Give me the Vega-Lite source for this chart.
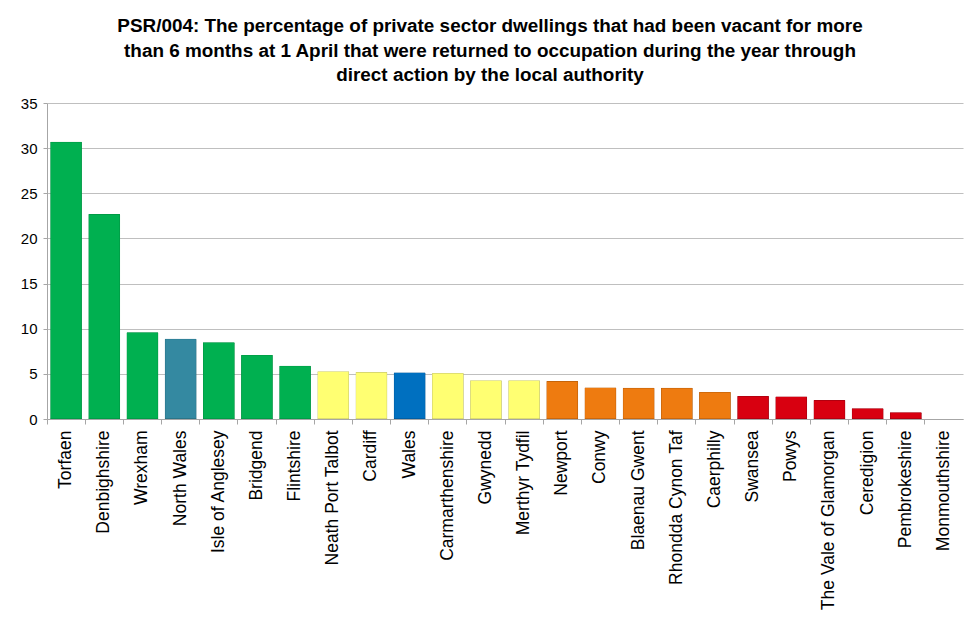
{
  "$schema": "https://vega.github.io/schema/vega-lite/v6.json",
  "width": 916,
  "height": 316,
  "autosize": "none",
  "padding": {"left": 47, "top": 103, "right": 7, "bottom": 199},
  "background": "white",
  "title": {
    "text": ["PSR/004: The percentage of private sector dwellings that had been vacant for more", "than 6 months at 1 April that were returned to occupation during the year through", "direct action by the local authority"],
    "font": "Liberation Sans",
    "fontSize": 18.9,
    "fontWeight": "bold",
    "color": "#000000",
    "anchor": "middle",
    "lineHeight": 24.5,
    "offset": 11,
    "dx": -15
  },
  "config": {
    "view": {"stroke": null},
    "axis": {"labelFont": "Liberation Sans", "labelColor": "#000000", "titleFont": "Liberation Sans"}
  },
  "data": {
    "values": [
      {"area": "Torfaen", "value": 30.7, "group": "green"},
      {"area": "Denbighshire", "value": 22.7, "group": "green"},
      {"area": "Wrexham", "value": 9.6, "group": "green"},
      {"area": "North Wales", "value": 8.9, "group": "teal"},
      {"area": "Isle of Anglesey", "value": 8.5, "group": "green"},
      {"area": "Bridgend", "value": 7.1, "group": "green"},
      {"area": "Flintshire", "value": 5.9, "group": "green"},
      {"area": "Neath Port Talbot", "value": 5.3, "group": "yellow"},
      {"area": "Cardiff", "value": 5.2, "group": "yellow"},
      {"area": "Wales", "value": 5.15, "group": "blue"},
      {"area": "Carmarthenshire", "value": 5.1, "group": "yellow"},
      {"area": "Gwynedd", "value": 4.3, "group": "yellow"},
      {"area": "Merthyr Tydfil", "value": 4.3, "group": "yellow"},
      {"area": "Newport", "value": 4.2, "group": "orange"},
      {"area": "Conwy", "value": 3.5, "group": "orange"},
      {"area": "Blaenau Gwent", "value": 3.45, "group": "orange"},
      {"area": "Rhondda Cynon Taf", "value": 3.45, "group": "orange"},
      {"area": "Caerphilly", "value": 3.0, "group": "orange"},
      {"area": "Swansea", "value": 2.55, "group": "red"},
      {"area": "Powys", "value": 2.5, "group": "red"},
      {"area": "The Vale of Glamorgan", "value": 2.1, "group": "red"},
      {"area": "Ceredigion", "value": 1.2, "group": "red"},
      {"area": "Pembrokeshire", "value": 0.75, "group": "red"},
      {"area": "Monmouthshire", "value": 0, "group": "red"}
    ]
  },
  "mark": {"type": "bar", "width": {"band": 0.83}, "strokeWidth": 1, "cornerRadiusTopLeft": 1, "cornerRadiusTopRight": 1},
  "encoding": {
    "x": {
      "field": "area",
      "type": "nominal",
      "sort": null,
      "scale": {"paddingInner": 0, "paddingOuter": 0},
      "axis": {
        "title": null,
        "labelAngle": -90,
        "labelAlign": "right",
        "labelBaseline": "middle",
        "labelFontSize": 17.5,
        "labelPadding": 6,
        "bandPosition": 0,
        "tickSize": 5,
        "tickColor": "#a6a6a6",
        "domainColor": "#a6a6a6",
        "grid": false,
        "labelOverlap": false,
        "labelLimit": 300
      }
    },
    "y": {
      "field": "value",
      "type": "quantitative",
      "scale": {"domain": [0, 35], "nice": false},
      "axis": {
        "title": null,
        "values": [0, 5, 10, 15, 20, 25, 30, 35],
        "labelFontSize": 15,
        "labelPadding": 6,
        "tickSize": 4,
        "tickColor": "#a6a6a6",
        "domainColor": "#a6a6a6",
        "gridColor": "#bfbfbf",
        "gridWidth": 1
      }
    },
    "color": {
      "field": "group",
      "type": "nominal",
      "legend": null,
      "scale": {
        "domain": ["green", "teal", "yellow", "blue", "orange", "red"],
        "range": ["#00B050", "#3489A1", "#FFFF72", "#0070C0", "#EE7B10", "#D80010"]
      }
    },
    "stroke": {
      "field": "group",
      "type": "nominal",
      "legend": null,
      "scale": {
        "domain": ["green", "teal", "yellow", "blue", "orange", "red"],
        "range": ["#008A3E", "#22606F", "#B8B870", "#004F8A", "#A85508", "#900010"]
      }
    }
  }
}
